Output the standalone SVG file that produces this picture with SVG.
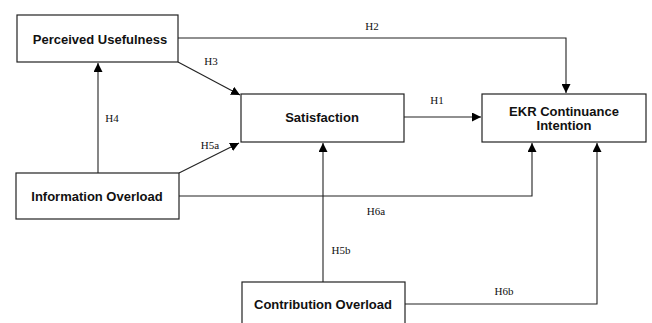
<svg xmlns="http://www.w3.org/2000/svg" width="652" height="323" viewBox="0 0 652 323">
<defs>
<marker id="ah" viewBox="0 0 10 10" refX="10" refY="5" markerWidth="9" markerHeight="9" markerUnits="userSpaceOnUse" orient="auto">
<path d="M0,0 L10,5 L0,10 z" fill="#000"/>
</marker>
<style>
.box{fill:#fff;stroke:#222;stroke-width:1.2}
.t{font-family:"Liberation Sans",Arial,sans-serif;font-weight:bold;font-size:13px;fill:#111;text-anchor:middle}
.h{font-family:"Liberation Serif","Times New Roman",serif;font-size:11px;fill:#111;text-anchor:middle}
.c{fill:none;stroke:#222;stroke-width:1.1}
.a{marker-end:url(#ah)}
</style>
</defs>
<rect width="652" height="323" fill="#fff"/>
<g id="connectors">
<path class="c a" d="M178,38 H566 V93"/>
<path class="c a" d="M404,117 H481"/>
<path class="c a" d="M178,62 L240,95"/>
<path class="c a" d="M98,173 V63"/>
<path class="c a" d="M179,173 L239,143"/>
<path class="c a" d="M179,196 H532 V143"/>
<path class="c a" d="M323,282 V143"/>
<path class="c a" d="M405,304 H597 V143"/>
<text class="h" x="372" y="30">H2</text>
<text class="h" x="437" y="104">H1</text>
<text class="h" x="211" y="65">H3</text>
<text class="h" x="112" y="122">H4</text>
<text class="h" x="210" y="149">H5a</text>
<text class="h" x="376" y="215">H6a</text>
<text class="h" x="341" y="254">H5b</text>
<text class="h" x="504" y="295">H6b</text>
</g>
<g id="perceived-usefulness">
<rect class="box" x="17" y="15" width="161" height="47"/>
<text class="t" x="100" y="44">Perceived Usefulness</text>
</g>
<g id="satisfaction">
<rect class="box" x="241" y="94" width="163" height="48"/>
<text class="t" x="322" y="122">Satisfaction</text>
</g>
<g id="ekr-continuance-intention">
<rect class="box" x="482" y="94" width="164" height="48"/>
<text class="t" x="564" y="116">EKR Continuance</text>
<text class="t" x="564" y="130">Intention</text>
</g>
<g id="information-overload">
<rect class="box" x="16" y="173" width="163" height="46"/>
<text class="t" x="97" y="201">Information Overload</text>
</g>
<g id="contribution-overload">
<rect class="box" x="242" y="282" width="163" height="50"/>
<text class="t" x="323" y="309">Contribution Overload</text>
</g>
</svg>
